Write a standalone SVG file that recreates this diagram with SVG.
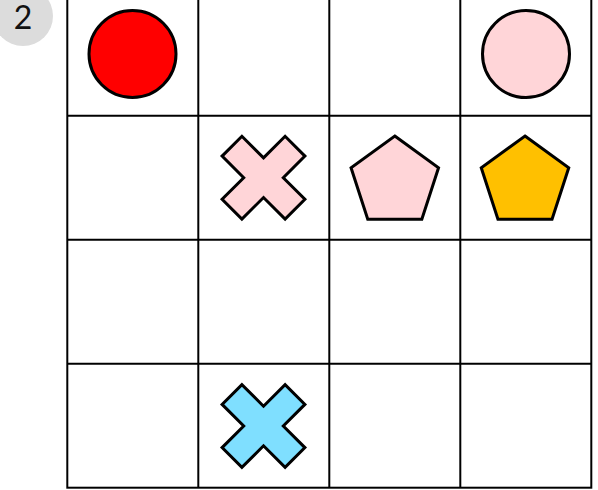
<svg xmlns="http://www.w3.org/2000/svg" width="598" height="490" viewBox="0 0 598 490">
<style>
.grid{stroke:#000;stroke-width:2;fill:none}
.shape{stroke:#000;stroke-width:3;stroke-linejoin:miter}
.badge{fill:#dcdcdc}
.num{font-family:Lato,"Open Sans","Liberation Sans",sans-serif;font-size:32px;fill:#111}
</style>
<defs>
<polygon id="xshape" points="0,-19.8 21.6,-41.4 41.4,-21.6 19.8,0 41.4,21.6 21.6,41.4 0,19.8 -21.6,41.4 -41.4,21.6 -19.8,0 -41.4,-21.6 -21.6,-41.4"/>
<polygon id="pent" points="0,-46 43.75,-14.21 27.04,37.21 -27.04,37.21 -43.75,-14.21"/>
</defs>
<rect width="598" height="490" fill="#fff"/>
<g id="badge">
<circle class="badge" cx="23" cy="16" r="30"/>
<text class="num" x="23" y="29" text-anchor="middle">2</text>
</g>
<g id="grid" class="grid">
<rect x="67.3" y="-8.3" width="524" height="496"/>
<line x1="198.3" y1="-9" x2="198.3" y2="488"/>
<line x1="329.3" y1="-9" x2="329.3" y2="488"/>
<line x1="460.3" y1="-9" x2="460.3" y2="488"/>
<line x1="67" y1="115.7" x2="592" y2="115.7"/>
<line x1="67" y1="239.7" x2="592" y2="239.7"/>
<line x1="67" y1="363.7" x2="592" y2="363.7"/>
</g>
<g id="red-circle"><circle class="shape" cx="132.5" cy="54" r="43.5" fill="#ff0000"/></g>
<g id="pink-circle"><circle class="shape" cx="526" cy="54" r="43.5" fill="#ffd5d8"/></g>
<g id="pink-x"><use href="#xshape" class="shape" x="263.5" y="177.7" fill="#ffd5d8"/></g>
<g id="pink-pentagon"><use href="#pent" class="shape" x="394.8" y="182" fill="#ffd5d8"/></g>
<g id="gold-pentagon"><use href="#pent" class="shape" x="525" y="182" fill="#ffc000"/></g>
<g id="blue-x"><use href="#xshape" class="shape" x="263.5" y="426" fill="#7fdfff"/></g>
</svg>
